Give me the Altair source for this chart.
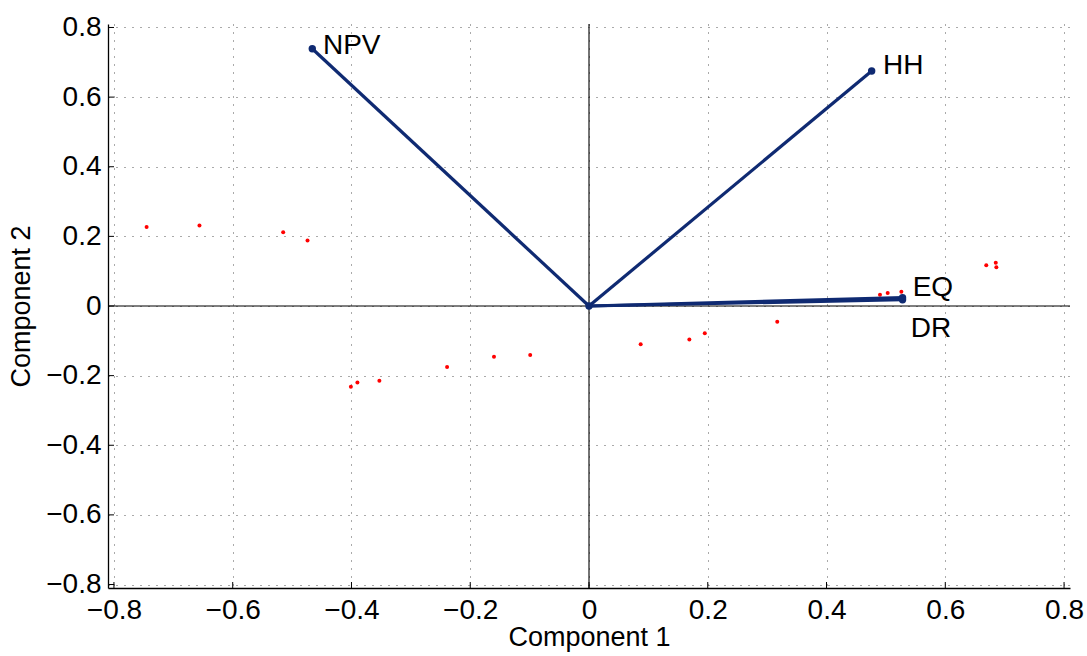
import altair as alt
import pandas as pd

# Observation scores (red points)
score_x = [-0.745, -0.656, -0.515, -0.474, -0.401, -0.390, -0.353, -0.239, -0.160, -0.099,
           0.087, 0.169, 0.195, 0.317, 0.490, 0.503, 0.526, 0.669, 0.685, 0.686]
score_y = [0.227, 0.231, 0.212, 0.188, -0.232, -0.220, -0.215, -0.175, -0.146, -0.141,
           -0.110, -0.096, -0.078, -0.045, 0.032, 0.037, 0.041, 0.117, 0.124, 0.111]

# Variable vectors
var_names = ["NPV", "HH", "EQ", "DR"]
var_x = [-0.466, 0.476, 0.528, 0.528]
var_y = [0.739, 0.675, 0.024, 0.018]
# label anchor positions
lab_x = [-0.448, 0.495, 0.545, 0.542]
lab_y = [0.746, 0.688, 0.052, -0.066]

ticks = [-0.8, -0.6, -0.4, -0.2, 0, 0.2, 0.4, 0.6, 0.8]
DOM = [-0.81, 0.81]
FONT = "Liberation Sans"
NAVY = "#0f2a72"
W, H = 962, 564

scores = pd.DataFrame({"x": score_x, "y": score_y})
vecs = pd.DataFrame({"name": var_names, "x": var_x, "y": var_y,
                     "x0": [0.0] * 4, "y0": [0.0] * 4})
labels = pd.DataFrame({"name": var_names, "x": lab_x, "y": lab_y})
tickdf = pd.DataFrame({"v": ticks})

label_expr = "datum.value == 0 ? '0' : replace(format(datum.value, '.1f'), '-', '\u2212')"

xs = alt.Scale(domain=DOM, nice=False, zero=False)
ys = alt.Scale(domain=DOM, nice=False, zero=False)

xaxis = alt.Axis(values=ticks, labelExpr=label_expr, grid=True, gridDash=[1, 7],
                 gridColor="#444444", gridOpacity=0.9, ticks=False, domainColor="black",
                 domainWidth=1.3, labelFontSize=28, labelFont=FONT, labelColor="black",
                 labelPadding=8, title="Component 1", titleFont=FONT, titleFontSize=27,
                 titleFontWeight="normal", titleColor="black", titlePadding=0,
                 labelFlush=False)
yaxis = alt.Axis(values=ticks, labelExpr=label_expr, grid=True, gridDash=[1, 7],
                 gridColor="#444444", gridOpacity=0.9, ticks=False, domainColor="black",
                 domainWidth=1.3, labelFontSize=28, labelFont=FONT, labelColor="black",
                 labelPadding=7, title="Component 2", titleFont=FONT, titleFontSize=27,
                 titleFontWeight="normal", titleColor="black", titlePadding=10,
                 labelFlush=False)

base_pts = alt.Chart(scores).mark_point(size=0, opacity=0).encode(
    x=alt.X("x:Q", scale=xs, axis=xaxis),
    y=alt.Y("y:Q", scale=ys, axis=yaxis),
)

# inward ticks
xticks = alt.Chart(tickdf).mark_rule(color="black", strokeWidth=1).encode(
    x=alt.X("v:Q", scale=xs), y=alt.value(H), y2=alt.value(H - 6))
yticks = alt.Chart(tickdf).mark_rule(color="black", strokeWidth=1).encode(
    y=alt.Y("v:Q", scale=ys), x=alt.value(0), x2=alt.value(6))

zero_v = alt.Chart(pd.DataFrame({"v": [0]})).mark_rule(color="black", strokeWidth=1.1).encode(
    x=alt.X("v:Q", scale=xs))
zero_h = alt.Chart(pd.DataFrame({"v": [0]})).mark_rule(color="black", strokeWidth=1.1).encode(
    y=alt.Y("v:Q", scale=ys))

pts = alt.Chart(scores).mark_circle(color="red", size=16, opacity=1).encode(
    x=alt.X("x:Q", scale=xs), y=alt.Y("y:Q", scale=ys))

lines = alt.Chart(vecs).mark_rule(color=NAVY, strokeWidth=3.2).encode(
    x=alt.X("x0:Q", scale=xs), y=alt.Y("y0:Q", scale=ys),
    x2="x:Q", y2="y:Q")

tips = alt.Chart(vecs).mark_circle(color=NAVY, size=55, opacity=1).encode(
    x=alt.X("x:Q", scale=xs), y=alt.Y("y:Q", scale=ys))

origin = alt.Chart(pd.DataFrame({"x": [0.0], "y": [0.0]})).mark_circle(
    color=NAVY, size=55, opacity=1).encode(
    x=alt.X("x:Q", scale=xs), y=alt.Y("y:Q", scale=ys))

texts = alt.Chart(labels).mark_text(align="left", baseline="middle", fontSize=28,
                                     font=FONT, color="black").encode(
    x=alt.X("x:Q", scale=xs), y=alt.Y("y:Q", scale=ys), text="name:N")

chart = alt.layer(base_pts, zero_v, zero_h, xticks, yticks, pts, lines, tips, origin, texts).properties(
    width=W, height=H,
    padding={"left": 108, "top": 24, "right": 17, "bottom": 68},
    autosize=alt.AutoSizeParams(type="none"),
    background="white",
).configure_view(stroke=None)

chart.save("out.html", embed_options={"renderer": "svg", "actions": False})
